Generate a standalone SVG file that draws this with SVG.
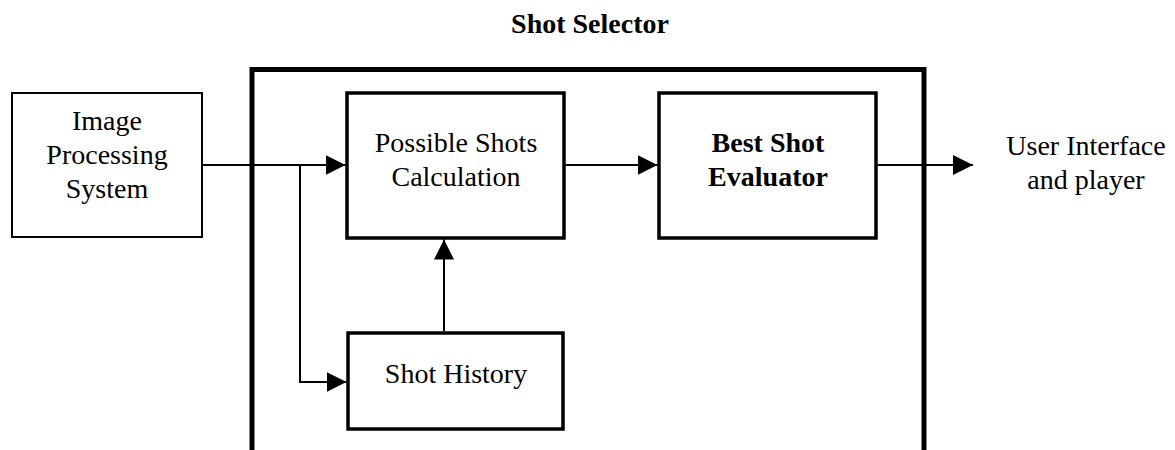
<svg xmlns="http://www.w3.org/2000/svg" width="1175" height="450" viewBox="0 0 1175 450">
<style>
text{font-family:"Liberation Serif","Times New Roman",serif;font-size:28px;fill:#000;text-anchor:middle}
.b{font-weight:bold}
.thin{fill:#fff;stroke:#000;stroke-width:2}
.med{fill:#fff;stroke:#000;stroke-width:3.5}
.outer{fill:none;stroke:#000;stroke-width:5}
.c{fill:none;stroke:#000;stroke-width:2}
</style>
<defs>
<marker id="ah" viewBox="0 0 20 20" refX="20" refY="10" markerWidth="20" markerHeight="20" markerUnits="userSpaceOnUse" orient="auto">
<path d="M0,0 L20,10 L0,20 Z" fill="#000"/>
</marker>
</defs>
<rect width="1175" height="450" fill="#fff"/>
<g id="shot-selector">
<path class="outer" d="M252,460 V69.5 H924 V460"/>
<text class="b" x="590" y="33">Shot Selector</text>
</g>
<g id="image-processing">
<rect class="thin" x="12" y="93" width="190" height="144"/>
<text x="107" y="130">Image</text>
<text x="107" y="164">Processing</text>
<text x="107" y="198">System</text>
</g>
<g id="possible-shots">
<rect class="med" x="347" y="93" width="217" height="145"/>
<text x="456" y="152">Possible Shots</text>
<text x="456" y="186">Calculation</text>
</g>
<g id="best-shot">
<rect class="med" x="659" y="93" width="217" height="145"/>
<text class="b" x="768" y="152">Best Shot</text>
<text class="b" x="768" y="186">Evaluator</text>
</g>
<g id="shot-history">
<rect class="med" x="348" y="333" width="215" height="96"/>
<text x="456" y="383">Shot History</text>
</g>
<g id="user-interface">
<text x="1086" y="155">User Interface</text>
<text x="1086" y="189">and player</text>
</g>
<g id="connectors">
<path class="c" d="M202,165 H345.5" marker-end="url(#ah)"/>
<path class="c" d="M300,165 V382 H346.5" marker-end="url(#ah)"/>
<path class="c" d="M444,331 V239.5" marker-end="url(#ah)"/>
<path class="c" d="M565.5,165 H657.5" marker-end="url(#ah)"/>
<path class="c" d="M877.5,165 H973" marker-end="url(#ah)"/>
</g>
</svg>
